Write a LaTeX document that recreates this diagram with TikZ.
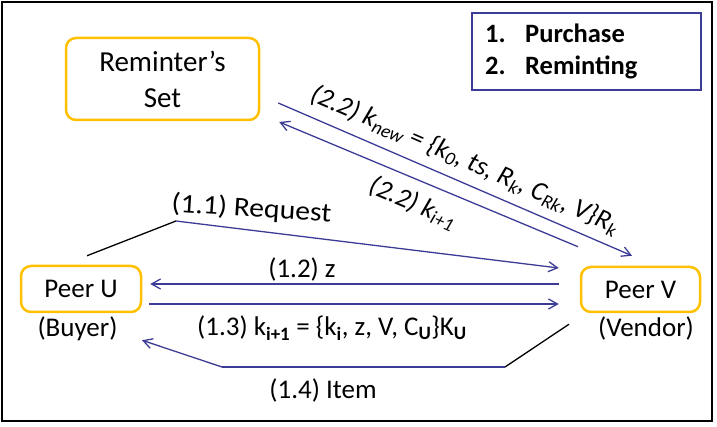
\documentclass[tikz,border=0pt]{standalone}
\usepackage{fontspec}
\setmainfont{Carlito}
\usetikzlibrary{arrows.meta,calc}
\definecolor{flowblue}{RGB}{60,60,150}
\definecolor{peerorange}{RGB}{255,192,0}
\newcommand{\sub}[1]{\textsubscript{#1}}
\newcommand{\bsub}[1]{\textsubscript{\bfseries #1}}
\tikzset{
  peer/.style={draw=peerorange, line width=2.5pt, rounded corners=10pt,
    fill=white, inner sep=0pt, font=\fontsize{27}{32}\selectfont},
  msg/.style={draw=flowblue, line width=1.3pt,
    -{Straight Barb[length=9pt,width=10pt]}},
  plainline/.style={draw=flowblue, line width=1.3pt},
  elbowline/.style={draw=black, line width=1.3pt},
  lbl/.style={inner sep=0pt, font=\fontsize{27}{32}\selectfont},
  legendtxt/.style={inner sep=0pt, anchor=base west,
    font=\fontsize{26.5}{30}\selectfont\bfseries}
}
\begin{document}
\begin{tikzpicture}[x=1pt,y=-1pt]
\useasboundingbox (0,0) rectangle (717,427);
% outer frame
\draw[line width=1.5pt] (2,2) rectangle (712,421);

% legend
\draw[flowblue, line width=1.2pt] (472,13) rectangle (701,90);
\node[legendtxt] (leg1) at (485,43) {\makebox[40pt][l]{1.}Purchase};
\node[legendtxt] (leg2) at (485,75) {\makebox[40pt][l]{2.}Reminting};

% parties
\node[peer, minimum width=193pt, minimum height=82pt, align=center,
  font=\fontsize{29}{36}\selectfont] (rem) at (162.5,79) {Reminter’s\\Set};
\node[peer, minimum width=120pt, minimum height=46pt] (pu) at (81,289) {Peer U};
\node[peer, minimum width=119pt, minimum height=45pt] (pv) at (640.5,289.5) {Peer V};
\node[lbl, anchor=base] (buyer) at (77.5,337) {(Buyer)};
\node[lbl, anchor=base] (vendor) at (646,337) {(Vendor)};

% (1.1) request
\coordinate (j11) at (176,221);
\draw[elbowline] ($(pu.north)+(6,-9)$) -- (j11);
\draw[msg] (j11) -- ($(pv.west)+(-21,-21.5)$);
\node[lbl, anchor=base, rotate=-3.7, xscale=1.1] (l11) at (251,217) {(1.1) Request};

% (1.2) challenge
\draw[msg] ($(pv.west)+(-21,-5.5)$) -- ($(pu.east)+(8,-5)$);
\node[lbl, anchor=base] (l12) at (302,278) {(1.2) z};

% (1.3) signed coin
\draw[msg] ($(pu.east)+(7,15)$) -- ($(pv.west)+(-21,14.5)$);
\node[lbl, anchor=base] (l13) at (332,336)
  {(1.3) k\bsub{i+1} = \{k\bsub{i}, z, V, C\bsub{U}\}K\bsub{U}};

% (1.4) item delivery
\coordinate (j14a) at (505,367);
\coordinate (j14b) at (222,367);
\draw[elbowline] ($(pv.south)+(-71.5,11)$) -- (j14a);
\draw[plainline] (j14a) -- (j14b);
\draw[msg] (j14b) -- ($(pu.south)+(61,27)$);
\node[lbl, anchor=base] (l14) at (323,398) {(1.4) Item};

% (2.2) reminting
\draw[msg] ($(rem.east)+(18,24)$) -- ($(pv.north)+(-8.5,-10)$);
\draw[msg] ($(pv.north)+(-62.5,-19)$) -- ($(rem.east)+(19,43)$);
\node[lbl, rotate=-23.5, font=\fontsize{27}{32}\selectfont\itshape] (l22a) at (465,160)
  {(2.2) k\sub{new} = \{k\sub{0}, ts, R\sub{k}, C\sub{Rk}, V\}R\sub{k}};
\node[lbl, rotate=-23, font=\fontsize{27}{32}\selectfont\itshape] (l22b) at (413,203)
  {(2.2) k\sub{i+1}};
\end{tikzpicture}
\end{document}
